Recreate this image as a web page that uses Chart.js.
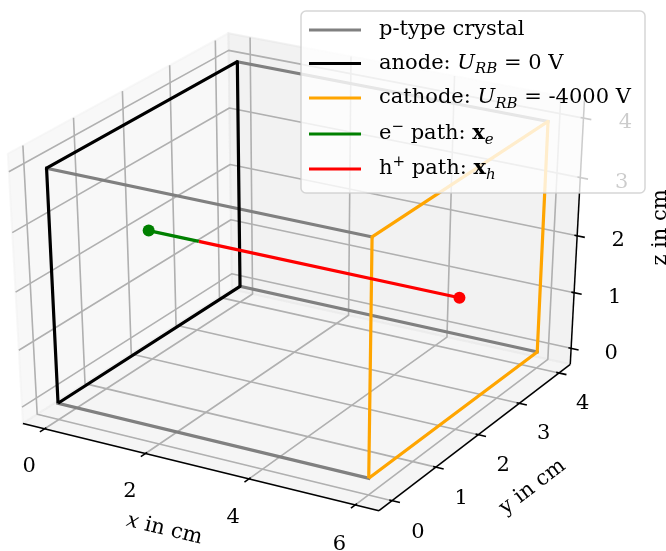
<!DOCTYPE html>
<html>
<head>
<meta charset="utf-8">
<script src="https://cdn.jsdelivr.net/npm/chart.js@4.4.1/dist/chart.umd.min.js"></script>
<style>
  html, body { margin: 0; padding: 0; background: #ffffff; }
  canvas { display: block; }
</style>
</head>
<body>
<canvas id="detector" width="666" height="551"></canvas>
<script>
//------------------------------------------------------------------------------
// data (cm)
//------------------------------------------------------------------------------
var crystalX = [0, 6];          // anode plane, cathode plane
var crystalY = [0, 4];
var crystalZ = [0, 4];

var ePathX = [1, 0]; var ePathY = [2, 2]; var ePathZ = [2, 2];
var hPathX = [1, 6]; var hPathY = [2, 2]; var hPathZ = [2, 2];

var xTicks = [0, 2, 4, 6];
var yTicks = [0, 1, 2, 3, 4];
var zTicks = [0, 1, 2, 3, 4];
var xLim = [-0.3, 6.3];
var yLim = [-0.2, 4.2];
var zLim = [-0.2, 4.2];

var grey = "#808080"; var grey_t = [["p-type crystal", "r"]];
var anode = "#000000"; var anode_t = [["anode: ", "r"], ["U", "i"], ["RB", "sub"], [" = 0 V", "r"]];
var cathode = "#ffa500"; var cathode_t = [["cathode: ", "r"], ["U", "i"], ["RB", "sub"], [" = -4000 V", "r"]];
var elec = "#008000"; var elec_t = [["e", "r"], ["\u2212", "sup"], [" path: ", "r"], ["x", "b"], ["e", "sub"]];
var hole = "#ff0000"; var hole_t = [["h", "r"], ["+", "sup"], [" path: ", "r"], ["x", "b"], ["h", "sub"]];

//------------------------------------------------------------------------------
// 3d view (matplotlib default elev/azim, perspective, stretched axes box)
//------------------------------------------------------------------------------
var elev = 30 * Math.PI / 180, azim = -60 * Math.PI / 180, dist = 10;
var nv = [Math.cos(elev) * Math.cos(azim), Math.cos(elev) * Math.sin(azim), Math.sin(elev)];
var uv = [-Math.sin(azim), Math.cos(azim), 0];
var vv = [-Math.sin(elev) * Math.cos(azim), -Math.sin(elev) * Math.sin(azim), Math.cos(elev)];
var ox = 301, oy = 263.5, kx = 3945.6, ky = 2955;
var P = 0.5 + 1 / 48;   // pane position in world units
var FONT = "DejaVu Serif";
var FS = 21;

function dot(a, b) { return a[0] * b[0] + a[1] * b[1] + a[2] * b[2]; }
function toWorld(x, y, z) {
  return [(x - xLim[0]) / (xLim[1] - xLim[0]) - 0.5,
          (y - yLim[0]) / (yLim[1] - yLim[0]) - 0.5,
          (z - zLim[0]) / (zLim[1] - zLim[0]) - 0.5];
}
function projW(d) {
  var w = dist - dot(nv, d);
  return { x: dot(uv, d) / w, y: dot(vv, d) / w };
}

//------------------------------------------------------------------------------
// datasets
//------------------------------------------------------------------------------
var datasets = [];
function addLine(pts, color, width, order, cap) {
  datasets.push({
    data: pts.map(projW),
    showLine: true,
    borderColor: color,
    borderWidth: width,
    borderCapStyle: cap || "butt",
    borderJoinStyle: "round",
    pointRadius: 0,
    pointHoverRadius: 0,
    order: order
  });
}
function addMarker(pt, color, order) {
  datasets.push({
    data: [projW(pt)],
    showLine: false,
    pointRadius: 6,
    pointHoverRadius: 6,
    pointBorderWidth: 0,
    pointBackgroundColor: color,
    backgroundColor: color,
    borderColor: color,
    order: order
  });
}

// grid on the panes
xTicks.forEach(function (t) {
  var a = toWorld(t, 0, 0)[0];
  addLine([[a, -P, -P], [a, P, -P], [a, P, P]], "#b0b0b0", 1.6, 100);
});
yTicks.forEach(function (t) {
  var b = toWorld(0, t, 0)[1];
  addLine([[P, b, -P], [-P, b, -P], [-P, b, P]], "#b0b0b0", 1.6, 100);
});
zTicks.forEach(function (t) {
  var c = toWorld(0, 0, t)[2];
  addLine([[-P, -P, c], [-P, P, c], [P, P, c]], "#b0b0b0", 1.6, 100);
});

// axis lines and ticks
addLine([[-P, -P, -P], [P, -P, -P]], "#000000", 1.5, 90);
addLine([[P, -P, -P], [P, P, -P]], "#000000", 1.5, 90);
addLine([[P, P, -P], [P, P, P]], "#000000", 1.5, 90);
var tin = 0.008, tout = 0.022;
xTicks.forEach(function (t) {
  var a = toWorld(t, 0, 0)[0];
  addLine([[a, -P + tin, -P], [a, -P - tout, -P]], "#000000", 1.6, 90);
});
yTicks.forEach(function (t) {
  var b = toWorld(0, t, 0)[1];
  addLine([[P - tin, b, -P], [P + tout, b, -P]], "#000000", 1.6, 90);
});
zTicks.forEach(function (t) {
  var c = toWorld(0, 0, t)[2];
  addLine([[P - tin, P, c], [P + tout, P, c]], "#000000", 1.6, 90);
});

// crystal edges along x
crystalY.forEach(function (y) {
  crystalZ.forEach(function (z) {
    addLine([toWorld(crystalX[0], y, z), toWorld(crystalX[1], y, z)], grey, 3.2, 50, "square");
  });
});
// electrode faces
function face(x) {
  var y0 = crystalY[0], y1 = crystalY[1], z0 = crystalZ[0], z1 = crystalZ[1];
  return [toWorld(x, y0, z0), toWorld(x, y1, z0), toWorld(x, y1, z1), toWorld(x, y0, z1), toWorld(x, y0, z0)];
}
addLine(face(crystalX[0]), anode, 3.2, 40);
addLine(face(crystalX[1]), cathode, 3.2, 30);

// drift paths
var ePts = ePathX.map(function (x, i) { return toWorld(x, ePathY[i], ePathZ[i]); });
var hPts = hPathX.map(function (x, i) { return toWorld(x, hPathY[i], hPathZ[i]); });
addLine(ePts, elec, 3.2, 20);
addLine(hPts, hole, 3.2, 20);
addMarker(ePts[ePts.length - 1], elec, 10);
addMarker(hPts[hPts.length - 1], hole, 10);

//------------------------------------------------------------------------------
// text helpers
//------------------------------------------------------------------------------
function runFont(style, size) {
  if (style === "i") return "italic " + size + "px " + FONT;
  if (style === "b") return "bold " + size + "px " + FONT;
  if (style === "sub") return "italic " + Math.round(size * 0.7) + "px " + FONT;
  if (style === "sup") return Math.round(size * 0.7) + "px " + FONT;
  return size + "px " + FONT;
}
function richWidth(ctx, runs, size) {
  var w = 0;
  runs.forEach(function (r) { ctx.font = runFont(r[1], size); w += ctx.measureText(r[0]).width; });
  return w;
}
function drawRich(ctx, runs, x, y, size, align, angle) {
  ctx.save();
  ctx.translate(x, y);
  ctx.rotate(angle || 0);
  ctx.textBaseline = "middle";
  ctx.textAlign = "left";
  ctx.fillStyle = "#000000";
  var cx = align === "center" ? -richWidth(ctx, runs, size) / 2 : 0;
  runs.forEach(function (r) {
    ctx.font = runFont(r[1], size);
    var dy = 0;
    if (r[1] === "sub") dy = size * 0.28;
    if (r[1] === "sup") dy = -size * 0.35;
    ctx.fillText(r[0], cx, dy);
    cx += ctx.measureText(r[0]).width;
  });
  ctx.restore();
}

//------------------------------------------------------------------------------
// plugins: panes, tick labels, axis titles, legend
//------------------------------------------------------------------------------
function px(chart, p) {
  return [chart.scales.x.getPixelForValue(p.x), chart.scales.y.getPixelForValue(p.y)];
}

var panes = {
  id: "panes",
  beforeDatasetsDraw: function (chart) {
    var ctx = chart.ctx;
    var list = [
      [[[-P, -P, -P], [-P, P, -P], [-P, P, P], [-P, -P, P]], "rgba(242,242,242,0.5)"],
      [[[-P, P, -P], [P, P, -P], [P, P, P], [-P, P, P]], "rgba(230,230,230,0.5)"],
      [[[-P, -P, -P], [P, -P, -P], [P, P, -P], [-P, P, -P]], "rgba(236,236,236,0.5)"]
    ];
    ctx.save();
    list.forEach(function (pn) {
      ctx.beginPath();
      pn[0].forEach(function (d, i) {
        var q = px(chart, projW(d));
        if (i === 0) ctx.moveTo(q[0], q[1]); else ctx.lineTo(q[0], q[1]);
      });
      ctx.closePath();
      ctx.fillStyle = pn[1];
      ctx.fill();
      ctx.strokeStyle = pn[1];
      ctx.lineWidth = 2;
      ctx.stroke();
    });
    ctx.restore();
  }
};

var labels3d = {
  id: "labels3d",
  afterDatasetsDraw: function (chart) {
    var ctx = chart.ctx;
    xTicks.forEach(function (t) {
      var q = px(chart, projW([toWorld(t, 0, 0)[0], -P - 0.078, -P - 0.11]));
      drawRich(ctx, [[String(t), "r"]], q[0], q[1], FS, "center", 0);
    });
    yTicks.forEach(function (t) {
      var q = px(chart, projW([P + 0.074, toWorld(0, t, 0)[1], -P - 0.102]));
      drawRich(ctx, [[String(t), "r"]], q[0], q[1], FS, "center", 0);
    });
    zTicks.forEach(function (t) {
      var q = px(chart, projW([P + 0.107, P + 0.021, toWorld(0, 0, t)[2]]));
      drawRich(ctx, [[String(t), "r"]], q[0], q[1], FS, "center", 0);
    });
    function ang(a, b) {
      var p1 = px(chart, projW(a)), p2 = px(chart, projW(b));
      return Math.atan2(p2[1] - p1[1], p2[0] - p1[0]);
    }
    var off = 0.16;
    var q = px(chart, projW([0, -P - off, -P - off]));
    drawRich(ctx, [["x", "i"], [" in cm", "r"]], q[0], q[1], FS, "center", ang([-P, -P, -P], [P, -P, -P]));
    q = px(chart, projW([P + off, 0, -P - off]));
    drawRich(ctx, [["y in cm", "r"]], q[0], q[1], FS, "center", ang([P, -P, -P], [P, P, -P]));
    q = px(chart, projW([P + off, P + off, 0]));
    drawRich(ctx, [["z in cm", "r"]], q[0], q[1], FS, "center", -Math.PI / 2);
  }
};

var legend3d = {
  id: "legend3d",
  afterDraw: function (chart) {
    var ctx = chart.ctx;
    var x0 = 301, y0 = 11, w = 344, h = 182, r = 5;
    ctx.save();
    ctx.beginPath();
    ctx.moveTo(x0 + r, y0);
    ctx.arcTo(x0 + w, y0, x0 + w, y0 + h, r);
    ctx.arcTo(x0 + w, y0 + h, x0, y0 + h, r);
    ctx.arcTo(x0, y0 + h, x0, y0, r);
    ctx.arcTo(x0, y0, x0 + w, y0, r);
    ctx.closePath();
    ctx.fillStyle = "rgba(255,255,255,0.8)";
    ctx.fill();
    ctx.strokeStyle = "rgba(204,204,204,0.8)";
    ctx.lineWidth = 1.5;
    ctx.stroke();
    var rows = [
      [grey, grey_t], [anode, anode_t], [cathode, cathode_t], [elec, elec_t], [hole, hole_t]
    ];
    var ys = [30, 63.5, 98, 134, 169];
    rows.forEach(function (row, i) {
      ctx.beginPath();
      ctx.moveTo(309, ys[i]);
      ctx.lineTo(361, ys[i]);
      ctx.strokeStyle = row[0];
      ctx.lineWidth = 3;
      ctx.stroke();
      drawRich(ctx, row[1], 379, ys[i], FS, "left", 0);
    });
    ctx.restore();
  }
};

//------------------------------------------------------------------------------
//------------------------------------------------------------------------------
var ctx = document.getElementById("detector");
var chart = new Chart(ctx, {
  type: "scatter",
  data: { datasets: datasets },
  options: {
    responsive: false,
    devicePixelRatio: 1,
    animation: false,
    events: [],
    layout: { padding: 0, autoPadding: false },
    plugins: { legend: { display: false }, tooltip: { enabled: false } },
    scales: {
      x: { type: "linear", display: false, min: -ox / kx, max: (666 - ox) / kx },
      y: { type: "linear", display: false, min: (oy - 551) / ky, max: oy / ky }
    }
  },
  plugins: [panes, labels3d, legend3d]
});
</script>
</body>
</html>
